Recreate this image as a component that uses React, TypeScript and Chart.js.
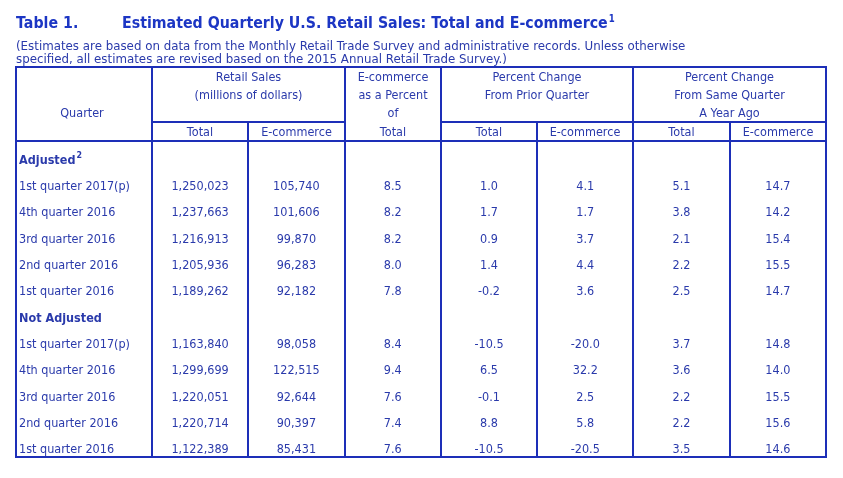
import React, { useEffect, useRef } from "react";
import { Chart, registerables } from "chart.js";

Chart.register(...registerables);

// ---------- text ----------
const TITLE_LEFT = "Table 1.";
const TITLE_MAIN = "Estimated Quarterly U.S. Retail Sales: Total and E-commerce";
const TITLE_NOTE = "1";
const SUBTITLE = [
  "(Estimates are based on data from the Monthly Retail Trade Survey and administrative records. Unless otherwise",
  "specified, all estimates are revised based on the 2015 Annual Retail Trade Survey.)",
];
const QUARTER_HEADER = "Quarter";
const GROUP_HEADERS = [
  ["Retail Sales", "(millions of dollars)"],
  ["E-commerce", "as a Percent", "of", "Total"],
  ["Percent Change", "From Prior Quarter"],
  ["Percent Change", "From Same Quarter", "A Year Ago"],
];
const SUB_HEADERS = ["Total", "E-commerce", "", "Total", "E-commerce", "Total", "E-commerce"];
const SECTIONS = ["Adjusted", "Not Adjusted"];
const SECTION_NOTES = ["2", ""];
const QUARTERS = [
  "1st quarter 2017(p)",
  "4th quarter 2016",
  "3rd quarter 2016",
  "2nd quarter 2016",
  "1st quarter 2016",
];

// ---------- values ----------
const adjTotal = [1250023, 1237663, 1216913, 1205936, 1189262];
const adjEcom = [105740, 101606, 99870, 96283, 92182];
const adjEcomPct = [8.5, 8.2, 8.2, 8.0, 7.8];
const adjPriorTotal = [1.0, 1.7, 0.9, 1.4, -0.2];
const adjPriorEcom = [4.1, 1.7, 3.7, 4.4, 3.6];
const adjYearTotal = [5.1, 3.8, 2.1, 2.2, 2.5];
const adjYearEcom = [14.7, 14.2, 15.4, 15.5, 14.7];

const naTotal = [1163840, 1299699, 1220051, 1220714, 1122389];
const naEcom = [98058, 122515, 92644, 90397, 85431];
const naEcomPct = [8.4, 9.4, 7.6, 7.4, 7.6];
const naPriorTotal = [-10.5, 6.5, -0.1, 8.8, -10.5];
const naPriorEcom = [-20.0, 32.2, 2.5, 5.8, -20.5];
const naYearTotal = [3.7, 3.6, 2.2, 2.2, 3.5];
const naYearEcom = [14.8, 14.0, 15.5, 15.6, 14.6];

const COLUMN_KINDS = ["int", "int", "pct", "pct", "pct", "pct", "pct"];

// ---------- style ----------
const FONT = "'DejaVu Sans', 'Liberation Sans', sans-serif";
const TEXT_COLOR = "#2a3aab";
const TITLE_COLOR = "#1c36c4";
const LINE_COLOR = "#1d2fb8";
const BODY_SIZE = 12.8;
const BODY_SX = 0.88;

function fmt(v: number, kind: string) {
  if (kind === "int") return v.toLocaleString("en-US");
  return v.toFixed(1);
}

// draws text horizontally condensed; returns drawn width
function drawText(
  ctx: CanvasRenderingContext2D,
  t: string,
  x: number,
  y: number,
  font: string,
  sx: number,
  align: CanvasTextAlign,
  baseline: CanvasTextBaseline
) {
  ctx.save();
  ctx.translate(x, y);
  ctx.scale(sx, 1);
  ctx.font = font;
  ctx.textAlign = align;
  ctx.textBaseline = baseline;
  ctx.fillText(t, 0, 0);
  const w = ctx.measureText(t).width * sx;
  ctx.restore();
  return w;
}

const tablePlugin = {
  id: "tablePlugin",
  afterDraw(chart: any) {
    const { ctx, chartArea, scales } = chart;
    const xs = scales.x;
    const left = chartArea.left;
    const right = chartArea.right;
    const bodyTop = chartArea.top;
    const bottom = chartArea.bottom;
    const tableTop = 67;
    const subLine = 122;
    const px = (v: number) => Math.round(xs.getPixelForValue(v));

    ctx.save();
    // title
    ctx.fillStyle = TITLE_COLOR;
    const tFont = `bold 16.5px ${FONT}`;
    drawText(ctx, TITLE_LEFT, 16, 28, tFont, 0.86, "left", "alphabetic");
    const w = drawText(ctx, TITLE_MAIN, 122, 28, tFont, 0.86, "left", "alphabetic");
    drawText(ctx, TITLE_NOTE, 122 + w + 1, 22, `bold 10px ${FONT}`, 0.86, "left", "alphabetic");

    ctx.fillStyle = TEXT_COLOR;
    const sFont = `13px ${FONT}`;
    drawText(ctx, SUBTITLE[0], 16, 50, sFont, 0.91, "left", "alphabetic");
    drawText(ctx, SUBTITLE[1], 16, 63, sFont, 0.91, "left", "alphabetic");

    // header text
    const hFont = `${BODY_SIZE}px ${FONT}`;
    const hy = [78, 96, 114, 133];
    drawText(ctx, QUARTER_HEADER, (left + px(0)) / 2 - 2, hy[2], hFont, BODY_SX, "center", "middle");
    const groupSpans = [[0, 2], [2, 3], [3, 5], [5, 7]];
    GROUP_HEADERS.forEach((lines, g) => {
      const cx = (px(groupSpans[g][0]) + px(groupSpans[g][1])) / 2;
      lines.forEach((t, i) => drawText(ctx, t, cx, hy[i], hFont, BODY_SX, "center", "middle"));
    });
    SUB_HEADERS.forEach((t, i) => {
      if (t) drawText(ctx, t, (px(i) + px(i + 1)) / 2, hy[3], hFont, BODY_SX, "center", "middle");
    });

    // lines
    ctx.strokeStyle = LINE_COLOR;
    ctx.lineWidth = 2;
    ctx.lineCap = "square";
    const line = (x1: number, y1: number, x2: number, y2: number) => {
      ctx.beginPath();
      ctx.moveTo(x1, y1);
      ctx.lineTo(x2, y2);
      ctx.stroke();
    };
    line(left, tableTop, right, tableTop);
    line(left, bottom, right, bottom);
    line(left, bodyTop, right, bodyTop);
    line(left, tableTop, left, bottom);
    line(right, tableTop, right, bottom);
    [0, 2, 3, 5].forEach((v) => line(px(v), tableTop, px(v), bottom));
    [1, 4, 6].forEach((v) => line(px(v), subLine, px(v), bottom));
    line(px(0), subLine, px(2), subLine);
    line(px(3), subLine, right, subLine);
    ctx.restore();
  },
  afterDatasetsDraw(chart: any) {
    const { ctx } = chart;
    ctx.save();
    ctx.fillStyle = TEXT_COLOR;
    chart.data.datasets.forEach((ds: any, di: number) => {
      const meta = chart.getDatasetMeta(di);
      meta.data.forEach((el: any, i: number) => {
        const txt = ds.texts[i];
        const font = `${ds.bold ? "bold " : ""}${BODY_SIZE}px ${FONT}`;
        const x = ds.align === "left" ? el.x + 3 : el.x;
        const tw = drawText(ctx, txt, x, el.y, font, BODY_SX, ds.align, "middle");
        if (ds.notes && ds.notes[i]) {
          drawText(ctx, ds.notes[i], x + tw + 1, el.y - 5, `bold 9px ${FONT}`, BODY_SX, "left", "middle");
        }
      });
    });
    ctx.restore();
  },
};

export default function App() {
  const ref = useRef<HTMLCanvasElement | null>(null);
  useEffect(() => {
    if (!ref.current) return;
    const sectionCols = [
      [adjTotal, adjEcom, adjEcomPct, adjPriorTotal, adjPriorEcom, adjYearTotal, adjYearEcom],
      [naTotal, naEcom, naEcomPct, naPriorTotal, naPriorEcom, naYearTotal, naYearEcom],
    ];
    const QMIN = -1.412;
    const rowOf = (s: number, k: number) => s * (QUARTERS.length + 1) + 1 + k;
    const datasets: any[] = [];
    // section headers
    datasets.push({
      data: SECTIONS.map((_, s) => ({ x: QMIN, y: s * (QUARTERS.length + 1) })),
      texts: SECTIONS,
      notes: SECTION_NOTES,
      bold: true,
      align: "left",
    });
    // quarter labels
    const qData: any[] = [];
    const qTexts: string[] = [];
    SECTIONS.forEach((_, s) =>
      QUARTERS.forEach((q, k) => {
        qData.push({ x: QMIN, y: rowOf(s, k) });
        qTexts.push(q);
      })
    );
    datasets.push({ data: qData, texts: qTexts, align: "left" });
    // value columns
    COLUMN_KINDS.forEach((kind, c) => {
      const d: any[] = [];
      const t: string[] = [];
      sectionCols.forEach((cols, s) =>
        cols[c].forEach((v, k) => {
          d.push({ x: c + 0.5, y: rowOf(s, k) });
          t.push(fmt(v, kind));
        })
      );
      datasets.push({ data: d, texts: t, align: "center" });
    });
    datasets.forEach((ds) => {
      ds.pointRadius = 0;
      ds.pointHoverRadius = 0;
      ds.showLine = false;
    });

    const chart = new Chart(ref.current, {
      type: "scatter",
      data: { datasets },
      options: {
        animation: false,
        responsive: false,
        devicePixelRatio: 1,
        layout: { padding: { left: 16, right: 17, top: 141, bottom: 21 } },
        plugins: { legend: { display: false }, tooltip: { enabled: false }, title: { display: false } },
        events: [],
        scales: {
          x: { type: "linear", min: QMIN, max: 7, display: false },
          y: { type: "linear", min: -0.74, max: 11.27, reverse: true, display: false },
        },
      } as any,
      plugins: [tablePlugin],
    });
    return () => chart.destroy();
  }, []);

  return (
    <div style={{ position: "absolute", left: 0, top: 0, width: 843, height: 478, background: "#fff" }}>
      <canvas ref={ref} width={843} height={478} style={{ display: "block" }} />
    </div>
  );
}
